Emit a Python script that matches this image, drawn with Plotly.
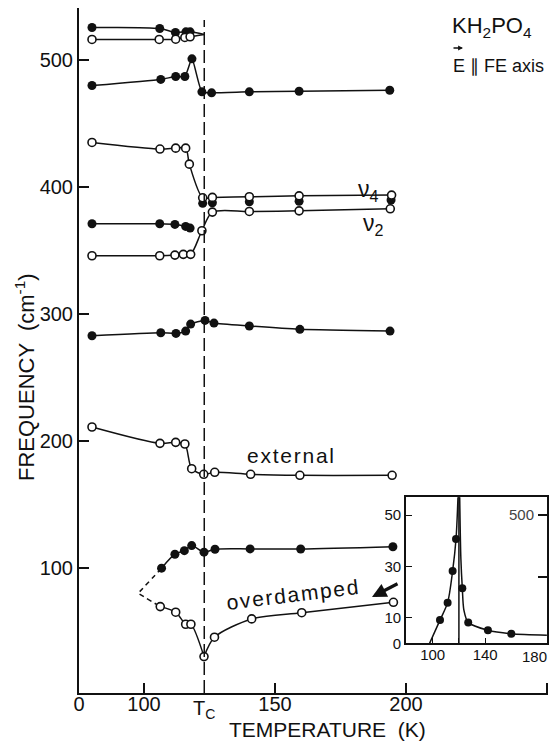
import plotly.graph_objects as go

# ---------------- data (temperature in K, frequency in cm^-1) ----------------
TC = 123.0
LOW_COMPRESS = 0.2481  # 0..100 K segment of the broken temperature axis is compressed


def xpos(t):
    return t if t >= 100 else 100 - (100 - t) * LOW_COMPRESS


A_T = [20, 106, 112, 116, 117.6]
A_F = [525.8, 525.0, 521.9, 522.4, 522.4]
A_END = (123, 520.3)

B_T = [20, 105.8, 112.1, 115.6, 117.6]
B_F = [516.4, 516.4, 516.6, 518.0, 518.5]

C_T = [20, 106.4, 112.1, 115.6, 118.3, 122.1, 125.8, 140.2, 159.2, 193.8]
C_F = [480.1, 484.9, 487.2, 487.2, 501.1, 475.1, 474.3, 475.1, 475.6, 476.4]

D_T = [20, 106.1, 112.1, 115.9, 117.3, 122.4, 126.1, 140.2, 159.2, 194.5]
D_F = [435.2, 430.0, 430.7, 430.7, 418.1, 391.6, 391.9, 392.4, 393.1, 393.7]

E_LO_T = [20, 106, 111.8, 115.9, 117.6]
E_LO_F = [371.1, 371.1, 370.6, 369.0, 367.7]
E_HI_T = [122.4, 126.1, 140.2, 159.2, 194.3]
E_HI_F = [387.2, 387.7, 388.5, 388.9, 389.8]

F_T = [20, 106, 111.8, 115, 117.8, 122.1, 126.1, 140.2, 159.2, 194.0]
F_F = [345.9, 345.9, 346.4, 347.0, 347.0, 365.6, 380.3, 380.8, 381.3, 382.9]

G_T = [20, 106.4, 112.2, 115.9, 117.8, 123.3, 126.7, 140.2, 159.5, 193.9]
G_F = [282.8, 285.2, 284.7, 286.5, 292.0, 294.9, 292.8, 290.5, 287.9, 286.5]

H_T = [20, 106.1, 112.1, 115.6, 118.2, 122.8, 127.0, 140.7, 159.5, 194.7]
H_F = [210.9, 198.0, 198.8, 197.5, 178.0, 173.6, 175.2, 173.6, 172.8, 172.8]

I_T = [106.7, 111.8, 115.4, 118.2, 122.9, 127.1, 140.5, 159.8, 195.0]
I_F = [99.6, 110.6, 113.4, 117.4, 112.2, 114.5, 114.8, 114.7, 116.5]

J_T = [106.2, 112.1, 115.9, 117.9, 122.9, 126.9, 141.1, 160.2, 195.2]
J_F = [69.3, 64.9, 55.4, 55.4, 29.9, 45.2, 59.6, 64.5, 72.7]

EXTRAP_T = [106.7, 91, 106.2]
EXTRAP_F = [99.6, 79.8, 69.3]

# inset: damping data and fitted curve
INS_T = [105.6, 111.4, 115.2, 117.8, 122.6, 127.1, 142.1, 159.9]
INS_G = [9.1, 15.9, 28.2, 40.7, 21.5, 8.2, 5.1, 3.75]
INS_L_T = [90.5, 105.6, 111.4, 115.2, 117.8, 119.3]
INS_L_G = [0, 9.1, 15.9, 28.2, 40.7, 57]
INS_R_T = [120.6, 121.5, 122.6, 123.8, 127.1, 142.1, 159.9, 187]
INS_R_G = [57, 33, 21.5, 13.0, 8.2, 5.1, 3.75, 3.2]
INS_X_TICKS = [100, 120, 140, 160, 180]
INS_X_TEXT = ["100", "", "140", "", ""]  # "180" drawn separately at the edge

Y_TICKS = [100, 200, 300, 400, 500]
X_TICKS = [0, 100, 150, 200]
X_TICK_TEXT = ["0", "100", "150", "200"]

FONT = "Liberation Sans, Arial, sans-serif"
BLACK = "#111111"
MS = 9
HS = "\u200a"  # hair space used for the wide letter spacing of the lettering


def spaced(s):
    return HS.join(s)


fig = go.Figure()


def line(ts, fs, smoothing=0.9, dash=None, xa="x", ya="y"):
    fig.add_trace(go.Scatter(
        x=[xpos(t) for t in ts], y=fs, mode="lines", xaxis=xa, yaxis=ya,
        line=dict(color=BLACK, width=1.5, shape="spline", smoothing=smoothing,
                  dash=dash),
        hoverinfo="skip", showlegend=False))


def marks(ts, fs, filled, xa="x", ya="y", size=MS):
    fig.add_trace(go.Scatter(
        x=[xpos(t) for t in ts], y=fs, mode="markers", xaxis=xa, yaxis=ya,
        marker=dict(size=size if filled else size - 1,
                    color=BLACK if filled else "white",
                    line=dict(color=BLACK, width=0 if filled else 1.6)),
        showlegend=False))


line(A_T + [A_END[0]], A_F + [A_END[1]], 0.8)
line(B_T + [A_END[0]], B_F + [A_END[1]], 0.8)
line(C_T, C_F, 0.5)
line(D_T, D_F, 0.8)
line(E_LO_T, E_LO_F, 0.6)
line(F_T, F_F, 0.8)
line(G_T, G_F, 0.6)
line(H_T, H_F, 0.8)
line(I_T, I_F, 0.8)
line(J_T[:5], J_F[:5], 0.8)
line(J_T[4:], J_F[4:], 0.8)
line(EXTRAP_T, EXTRAP_F, 0, dash="5px,4px")

marks(A_T, A_F, True)
marks(B_T, B_F, False)
marks(C_T, C_F, True)
marks(E_HI_T, E_HI_F, True)
marks(D_T, D_F, False)
marks(E_LO_T, E_LO_F, True)
marks(F_T, F_F, False)
marks(G_T, G_F, True)
marks(H_T, H_F, False)
marks(I_T, I_F, True)
marks(J_T, J_F, False)

# inset
line(INS_L_T, INS_L_G, 0.8, xa="x2", ya="y2")
line(INS_R_T, INS_R_G, 0.8, xa="x2", ya="y2")
marks(INS_T, INS_G, True, xa="x2", ya="y2", size=8)
fig.add_trace(go.Scatter(x=[None], y=[None], xaxis="x2", yaxis="y3",
                         showlegend=False))

# ---------------- layout ----------------
L, R, T, B = 79, 1, 8, 51
W, H = 549, 744
PW, PH = W - L - R, H - T - B


def px_x(p):
    return (p - L) / PW


def px_y(p):
    return (H - B - p) / PH


x_lo = xpos(0)
x_hi = 100 + (548 - 144) / 2.62

fig.update_layout(
    width=W, height=H, margin=dict(l=L, r=R, t=T, b=B),
    paper_bgcolor="white", plot_bgcolor="white",
    font=dict(family=FONT, size=20, color=BLACK),
    xaxis=dict(range=[x_lo, x_hi], showgrid=False, zeroline=False,
               showline=True, linecolor=BLACK, linewidth=2,
               ticks="inside", ticklen=10, tickwidth=1.6, tickcolor=BLACK,
               tickvals=[xpos(v) for v in X_TICKS] + [253.8],
               ticktext=X_TICK_TEXT + [""], ticklabelstandoff=-8,
               tickfont=dict(size=20)),
    yaxis=dict(range=[1.2, 541.2], showgrid=False, zeroline=False,
               showline=True, linecolor=BLACK, linewidth=2,
               ticks="inside", ticklen=10, tickwidth=1.6, tickcolor=BLACK,
               tickvals=Y_TICKS, tickfont=dict(size=20)),
    xaxis2=dict(domain=[px_x(406), px_x(547)], anchor="y2",
                range=[79.7, 187.1], showgrid=False, zeroline=False,
                showline=True, mirror=True, linecolor=BLACK, linewidth=1.6,
                ticks="inside", ticklen=6, tickwidth=1.4, tickcolor=BLACK,
                tickvals=INS_X_TICKS, ticktext=INS_X_TEXT,
                ticklabelstandoff=-3, tickfont=dict(size=15)),
    yaxis2=dict(domain=[px_y(643.4), px_y(497)], anchor="x2",
                range=[0, 57.1], showgrid=False, zeroline=False,
                showline=True, mirror=True, linecolor=BLACK, linewidth=1.6,
                ticks="inside", ticklen=6, tickwidth=1.4, tickcolor=BLACK,
                tickvals=[0, 10, 30, 50], tickfont=dict(size=15)),
    yaxis3=dict(overlaying="y2", anchor="x2", side="right",
                range=[0, 571], showgrid=False, zeroline=False,
                showline=False, ticks="inside", ticklen=9, tickwidth=1.5,
                tickcolor=BLACK, tickvals=[259, 500], ticktext=["", "500"],
                ticklabelposition="inside", ticklabelstandoff=4,
                tickfont=dict(size=15)),
)

# Tc dashed line
fig.add_shape(type="line", xref="x", yref="y", x0=TC, x1=TC, y0=1.2, y1=531.8,
              line=dict(color=BLACK, width=1.5, dash="13px,5px"))
# inset Tc line
fig.add_shape(type="line", xref="x2", yref="y2", x0=120, x1=120, y0=0, y1=57.1,
              line=dict(color=BLACK, width=1.5))
# vector arrow above E
fig.add_annotation(xref="paper", yref="paper", x=px_x(463), y=px_y(48),
                   ax=-11, ay=0, axref="pixel", ayref="pixel",
                   showarrow=True, arrowhead=2, arrowsize=0.7, arrowwidth=1.4,
                   arrowcolor=BLACK, text="")


def label(text, x, y, size=20, angle=0, anchor="center"):
    fig.add_annotation(xref="paper", yref="paper", x=px_x(x), y=px_y(y),
                       text=text, showarrow=False, textangle=angle,
                       xanchor=anchor, yanchor="middle",
                       font=dict(family=FONT, size=size, color=BLACK))


label("T<sub>C</sub>", 204, 709, size=20)
label("TEMPERATURE  (K)", 327, 729, size=21)
label("FREQUENCY  (cm<sup>-1</sup>)", 25, 377, size=22, angle=-90)
label("KH<sub>2</sub>PO<sub>4</sub>", 450, 27, size=22, anchor="left")
label("E \u2225 FE axis", 451, 66, size=18, anchor="left")
label("\u03bd<sub>4</sub>", 368, 190, size=23)
label("\u03bd<sub>2</sub>", 373, 224, size=23)
label(spaced("external"), 290, 455, size=21)
label(spaced("overdamped"), 292, 594, size=21, angle=-7)
label("180", 549, 656, size=15, anchor="right")

# thick arrow pointing at the overdamped branch
fig.add_annotation(xref="paper", yref="paper", x=px_x(372), y=px_y(597),
                   ax=27, ay=-14, axref="pixel", ayref="pixel",
                   text="", showarrow=True, arrowhead=2, arrowsize=0.9,
                   arrowwidth=3.2, arrowcolor=BLACK)

fig.write_html("out.html")
